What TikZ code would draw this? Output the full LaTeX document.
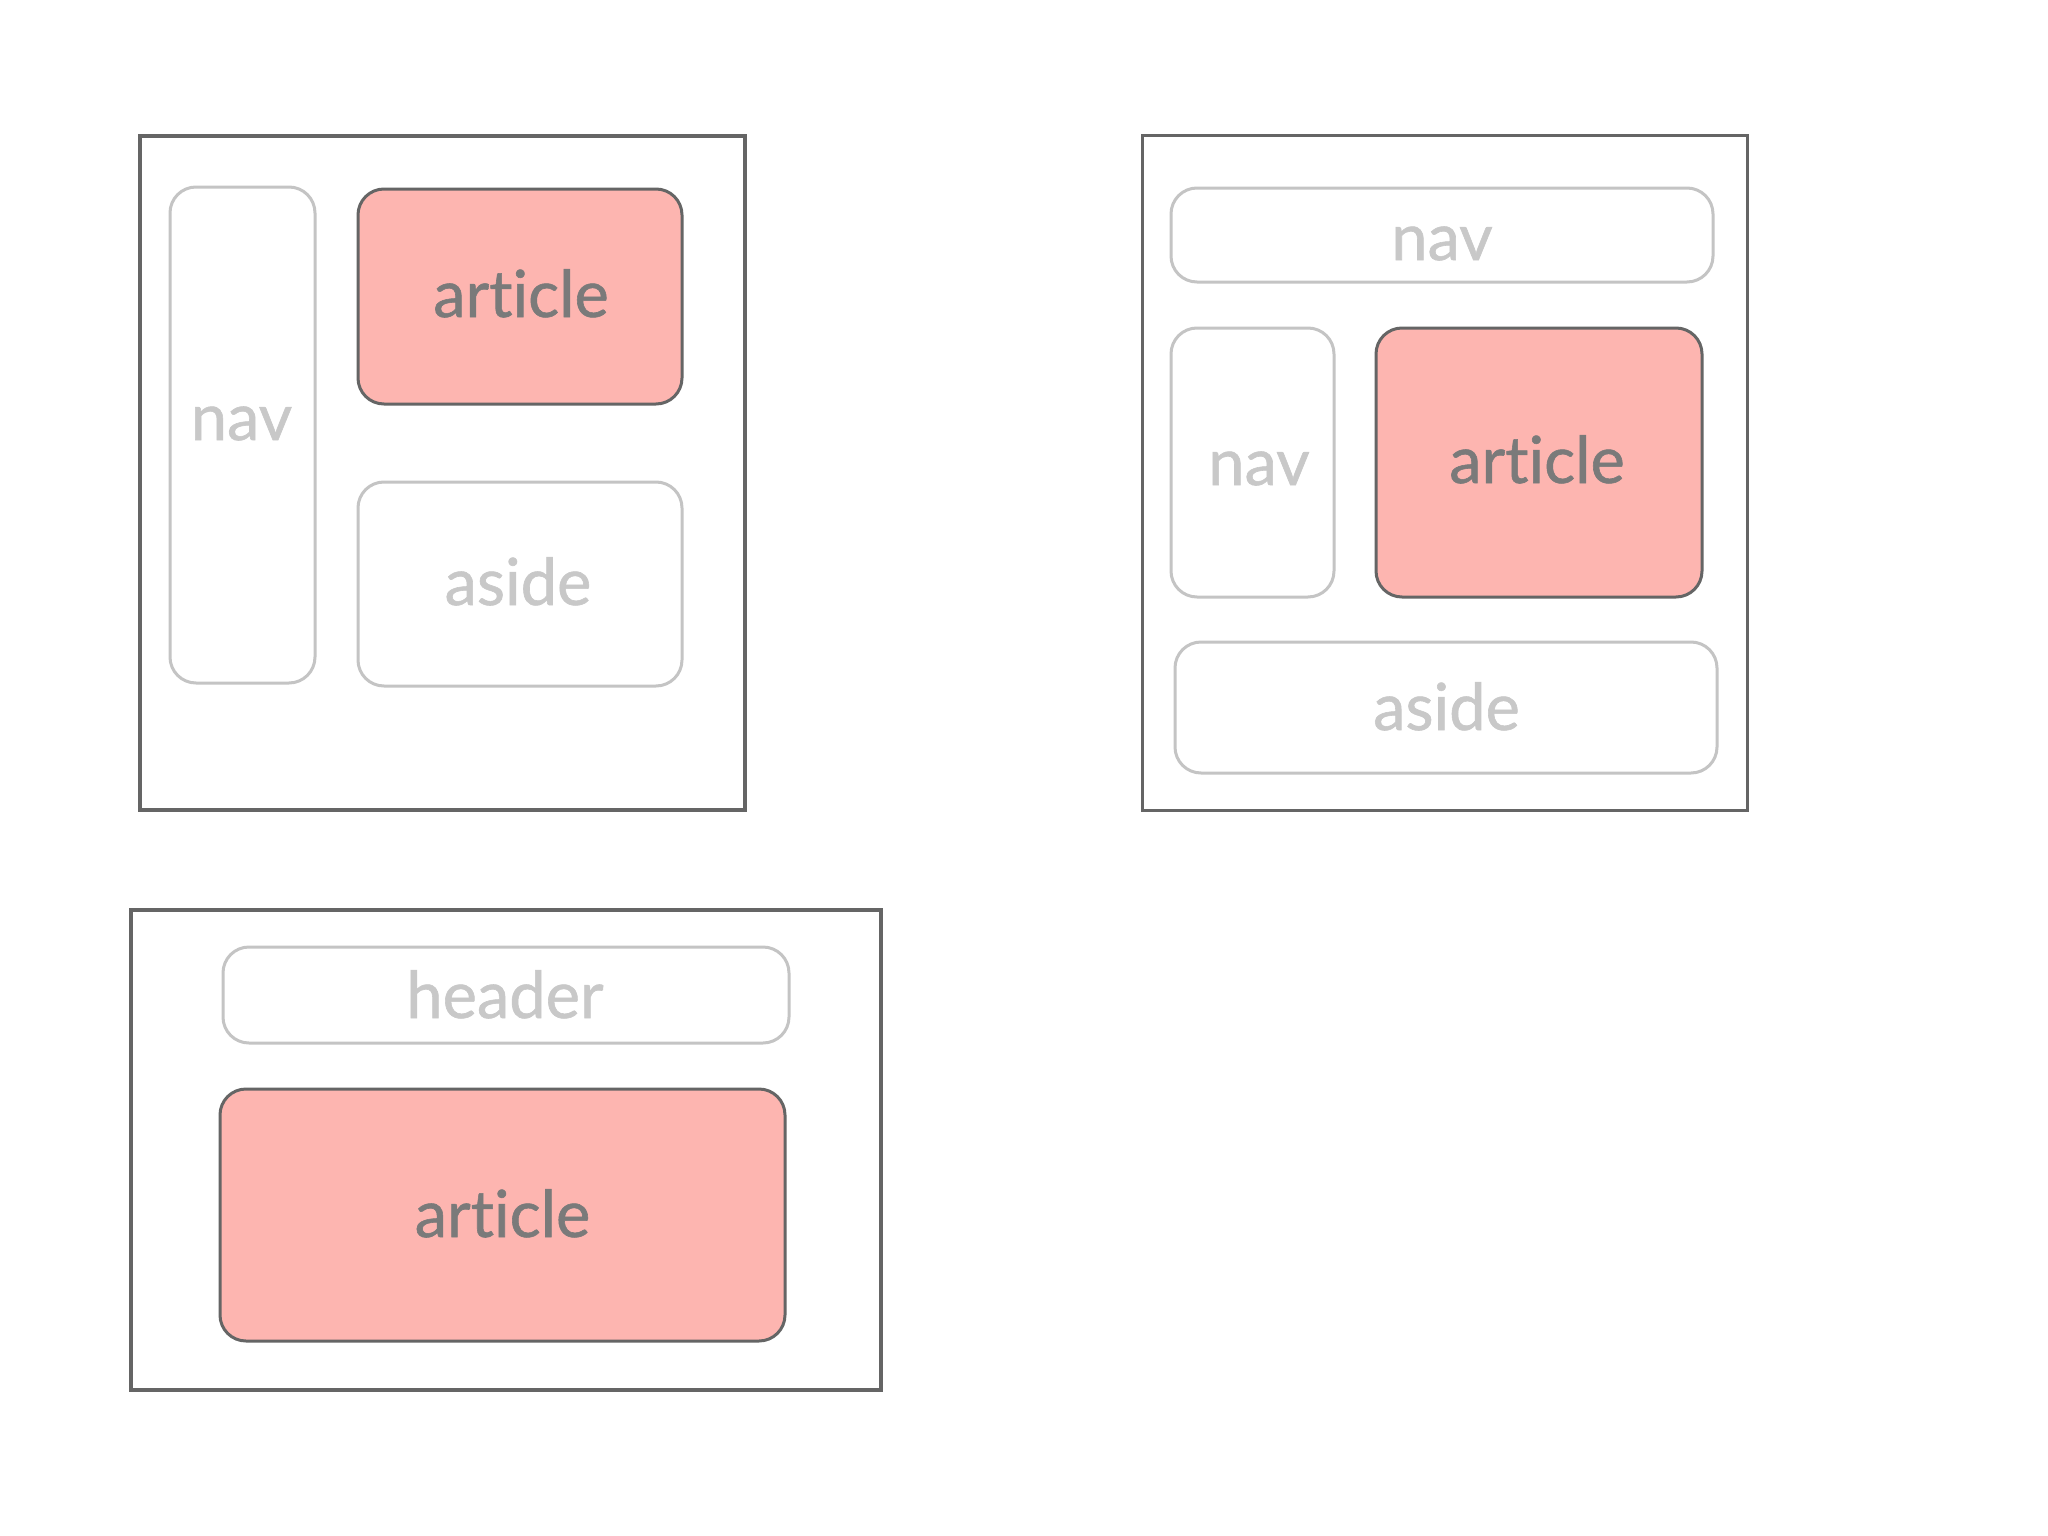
\documentclass[tikz,border=0pt]{standalone}
\usepackage{fontspec}
\setmainfont{Lato}[Ligatures=NoCommon]
\newfontfamily\boxlabelfont{Lato}[Ligatures=NoCommon, FakeBold=0.9]
\definecolor{frame}{HTML}{656565}
\definecolor{artfill}{HTML}{FDB5B0}
\definecolor{arttext}{HTML}{7A7A7A}
\definecolor{light}{HTML}{C4C4C4}
\definecolor{lighttext}{HTML}{C8C8C8}
\tikzset{
  outerbox/.style={draw=frame, line width=3.5pt, fill=white, rectangle, inner sep=0pt},
  artbox/.style={draw=frame, line width=3pt, fill=artfill, rectangle, rounded corners=26pt, inner sep=0pt},
  lightbox/.style={draw=light, line width=3pt, fill=white, rectangle, rounded corners=26pt, inner sep=0pt},
  arttxt/.style={anchor=base, inner sep=0pt, text=arttext, font=\boxlabelfont\fontsize{65}{65}\selectfont},
  lighttxt/.style={anchor=base, inner sep=0pt, text=lighttext, font=\boxlabelfont\fontsize{65}{65}\selectfont},
}
\begin{document}
\begin{tikzpicture}[x=1pt,y=-1pt]
\useasboundingbox (0,0) rectangle (2048,1536);
\fill[white] (0,0) rectangle (2048,1536);
% layout 1
\node[outerbox, minimum width=605pt, minimum height=674pt] (box1) at (442.5,473) {};
\node[lightbox, minimum width=145pt, minimum height=496pt] (nav1) at (242.5,435) {};
\node[artbox, minimum width=324pt, minimum height=215pt] (art1) at (520,296.5) {};
\node[lightbox, minimum width=324pt, minimum height=204pt] (aside1) at (520,584) {};
\node[lighttxt] (nav1t) at (241.5,440) {nav};
\node[arttxt] (art1t) at (521,317) {article};
\node[lighttxt] (aside1t) at (518,605) {aside};
% layout 2
\node[outerbox, minimum width=605pt, minimum height=675pt] (box2) at (1445,473) {};
\node[lightbox, minimum width=542pt, minimum height=94pt] (navtop2) at (1442,235) {};
\node[lightbox, minimum width=163pt, minimum height=269pt] (navleft2) at (1252.5,462.5) {};
\node[artbox, minimum width=326pt, minimum height=269pt] (art2) at (1539,462.5) {};
\node[lightbox, minimum width=542pt, minimum height=131pt] (aside2) at (1446,707.5) {};
\node[lighttxt] (navtop2t) at (1442,260) {nav};
\node[lighttxt] (navleft2t) at (1259,485) {nav};
\node[arttxt] (art2t) at (1537,483) {article};
\node[lighttxt] (aside2t) at (1446.5,730) {aside};
% layout 3
\node[outerbox, minimum width=750pt, minimum height=480pt] (box3) at (506,1150) {};
\node[lightbox, minimum width=566pt, minimum height=96pt] (header3) at (506,995) {};
\node[artbox, minimum width=565pt, minimum height=252pt] (art3) at (502.5,1215) {};
\node[lighttxt] (header3t) at (505,1018) {header};
\node[arttxt] (art3t) at (502.5,1237) {article};
\end{tikzpicture}
\end{document}
